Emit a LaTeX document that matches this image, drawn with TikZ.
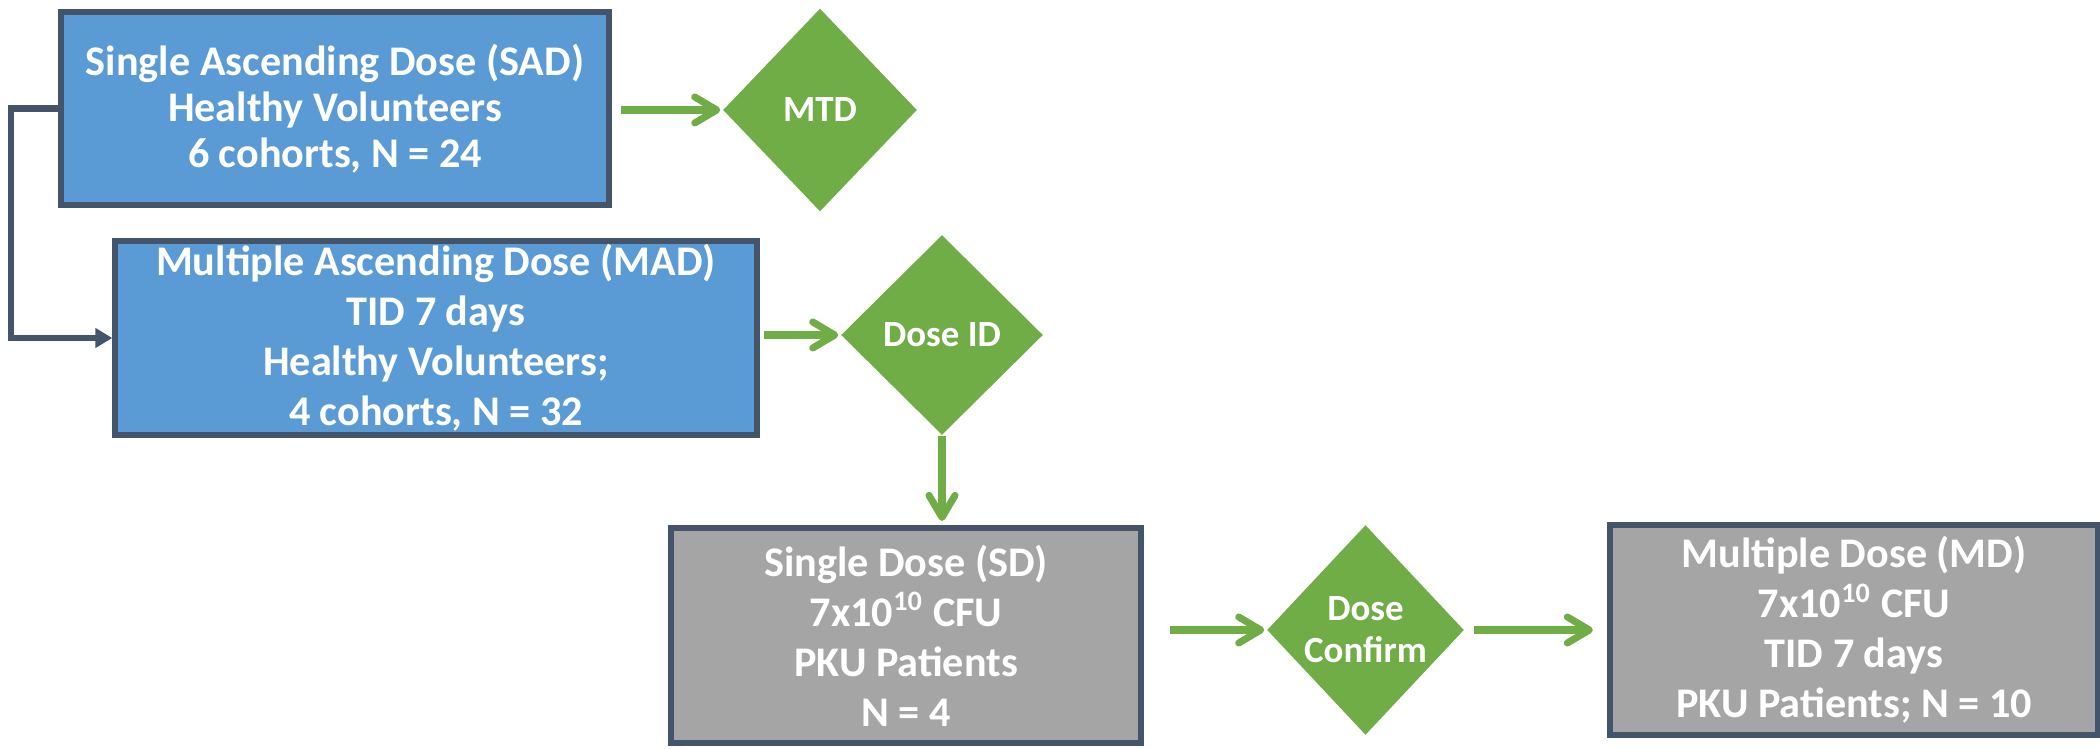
\documentclass[tikz,border=0pt]{standalone}
\usepackage{fontspec}
\setmainfont{Carlito}
\usepackage{tikz}
\usetikzlibrary{arrows.meta,positioning,shapes.geometric,calc}
\definecolor{hvblue}{HTML}{5B9BD5}
\definecolor{pkugray}{HTML}{A5A5A5}
\definecolor{slate}{HTML}{44546A}
\definecolor{gogreen}{HTML}{70AD47}
\tikzset{
  boxHV/.style={draw=slate, fill=hvblue, line width=1.7pt, inner sep=0pt,
    font=\fontsize{12}{14.2}\selectfont\bfseries, align=center, text=white},
  boxPKU/.style={draw=slate, fill=pkugray, line width=1.7pt, inner sep=0pt,
    font=\fontsize{12}{14.2}\selectfont\bfseries, align=center, text=white},
  %% Decision diamonds
  gate/.style={diamond, fill=gogreen, draw=none, inner sep=0pt,
    font=\fontsize{10.5}{12}\selectfont\bfseries, align=center, text=white},
  %% Connectors
  flowArr/.style={-{Straight Barb[length=0.22cm, width=0.26cm, round]}, draw=gogreen, line width=2pt},
  linkArr/.style={-{Triangle[length=0.17cm, width=0.19cm]}, draw=slate, line width=1.8pt},
}

\begin{document}
\begin{tikzpicture}[x=0.01cm, y=-0.01cm]
\useasboundingbox (0,0) rectangle (2100,749);

%% Healthy volunteer studies
\node[boxHV, minimum width=5.48cm, minimum height=1.93cm, font=\fontsize{12}{13}\selectfont\bfseries]
  (bSAD) at (335,108.5) {Single Ascending Dose (SAD)\\Healthy Volunteers\\6 cohorts, N = 24};
\node[boxHV, minimum width=6.41cm, minimum height=1.94cm]
  (bMAD) at (436,338) {Multiple Ascending Dose (MAD)\\TID 7 days\\Healthy Volunteers;\\4 cohorts, N = 32};

%% Patient studies
\node[boxPKU, minimum width=4.70cm, minimum height=2.15cm]
  (bSD) at (906,635.5) {Single Dose (SD)\\7x10\textsuperscript{10} CFU\\PKU Patients\\N = 4};
\node[boxPKU, minimum width=4.88cm, minimum height=2.10cm]
  (bMD) at (1854,630) {Multiple Dose (MD)\\7x10\textsuperscript{10} CFU\\TID 7 days\\PKU Patients; N = 10};

%% Decisions
\node[gate, minimum width=1.94cm, minimum height=2.03cm] (gMTD)     at (820,110)    {MTD};
\node[gate, minimum width=2.02cm, minimum height=2.00cm] (gDoseID)  at (942,335)    {Dose ID};
\node[gate, minimum width=1.97cm, minimum height=2.10cm] (gConfirm) at (1365.5,630) {Dose\\Confirm};

%% SAD -> MAD
\draw[linkArr] (bSAD.west) -- ++(-47,0) |- (bMAD.west);

%% Green flow
\draw[flowArr, shorten <=0.09cm, shorten >=0.02cm] (bSAD.east |- gMTD.west) -- (gMTD.west);
\draw[flowArr, shorten <=0.04cm, shorten >=0.02cm] (bMAD.east |- gDoseID.west) -- (gDoseID.west);
\draw[flowArr, shorten >=0.04cm] (gDoseID.south) -- (gDoseID.south |- bSD.north);
\draw[flowArr, shorten <=0.26cm, shorten >=0.02cm] (bSD.east |- gConfirm.west) -- (gConfirm.west);
\draw[flowArr, shorten <=0.09cm, shorten >=0.14cm] (gConfirm.east) -- (gConfirm.east -| bMD.west);

\end{tikzpicture}
\end{document}
